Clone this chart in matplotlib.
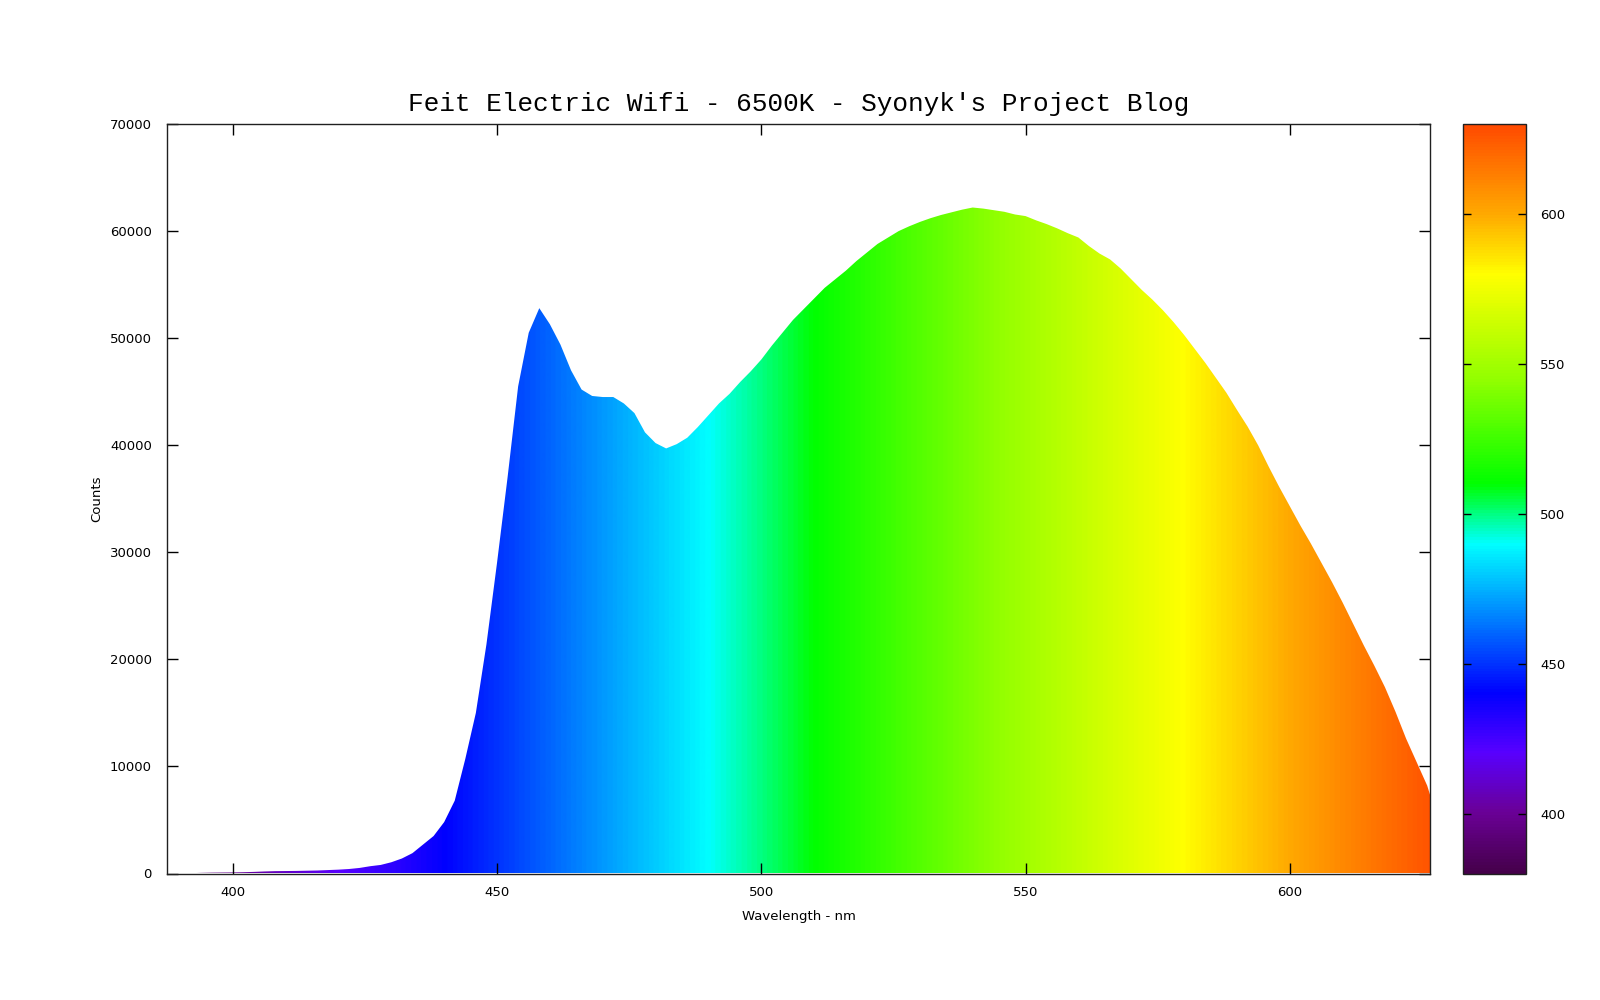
import numpy as np
import matplotlib
matplotlib.use("Agg")
import matplotlib.pyplot as plt
from matplotlib.colors import LinearSegmentedColormap, Normalize
from matplotlib.patches import Polygon
from matplotlib.cm import ScalarMappable

# Spectrum (2 nm steps)
wavelength = np.arange(388, 630, 2)
counts = [
    0, 0, 30, 60, 80, 90, 100, 120, 150, 190,
    220, 230, 240, 260, 280, 320, 360, 420, 520, 680,
    800, 1050, 1400, 1900, 2700, 3500, 4800, 6800, 10700, 15000,
    21400, 29000, 37000, 45500, 50500, 52800, 51300, 49400, 47000, 45200,
    44600, 44500, 44500, 43900, 43000, 41200, 40200, 39700, 40100, 40700,
    41700, 42800, 43900, 44800, 45900, 46900, 48000, 49300, 50500, 51700,
    52700, 53700, 54700, 55500, 56300, 57200, 58000, 58800, 59400, 60000,
    60450, 60850, 61200, 61500, 61750, 62000, 62200, 62100, 61950, 61800,
    61550, 61400, 61000, 60650, 60250, 59800, 59400, 58600, 57900, 57350,
    56500, 55500, 54500, 53600, 52600, 51500, 50300, 49000, 47700, 46300,
    44900, 43300, 41750, 40000, 38000, 36100, 34300, 32500, 30800, 29000,
    27200, 25300, 23300, 21300, 19400, 17400, 15100, 12600, 10400, 8200,
    5000,
]

title = "Feit Electric Wifi - 6500K - Syonyk's Project Blog"
x_ticks = [400, 450, 500, 550, 600]
y_ticks = [0, 10000, 20000, 30000, 40000, 50000, 60000, 70000]
cb_ticks = [400, 450, 500, 550, 600]

# wavelength -> colour nodes for the rainbow palette
cmap_nodes = [
    (380, "#45004a"), (400, "#6a0096"), (420, "#5800ff"), (440, "#0000ff"),
    (490, "#00ffff"), (510, "#00ff00"), (545, "#92ff00"), (580, "#ffff00"),
    (600, "#ffaa00"), (630, "#ff4a00"),
]
cb_min, cb_max = 380, 630
cmap = LinearSegmentedColormap.from_list(
    "spectrum", [((w - cb_min) / (cb_max - cb_min), c) for w, c in cmap_nodes])
norm = Normalize(cb_min, cb_max)

fig = plt.figure(figsize=(16, 10), dpi=100)
ax = fig.add_axes([0.1045, 0.1265, 0.7895, 0.7495])
cax = fig.add_axes([0.9145, 0.1265, 0.0395, 0.7495])

# Filled curve coloured by wavelength: gradient image clipped to the area
verts = np.column_stack([np.r_[wavelength[0], wavelength, wavelength[-1]],
                         np.r_[0, counts, 0]])
clip = Polygon(verts, closed=True, facecolor="none", edgecolor="none",
               transform=ax.transData)
ax.add_patch(clip)
grad = np.linspace(cb_min, cb_max, 1200).reshape(1, -1)
im = ax.imshow(grad, extent=[cb_min, cb_max, 0, 70000], aspect="auto",
               cmap=cmap, norm=norm, origin="lower", interpolation="bilinear")
im.set_clip_path(clip)

ax.set_xlim(387.6, 626.6)
ax.set_ylim(0, 70000)
ax.set_xticks(x_ticks)
ax.set_yticks(y_ticks)
ax.tick_params(direction="in", top=True, right=True, length=8, width=1,
               labelsize=9.5, pad=9)
ax.tick_params(axis="y", pad=11)
for s in ax.spines.values():
    s.set_linewidth(1)
    s.set_color("#202020")

ax.set_xlabel("Wavelength - nm", fontsize=9.5, labelpad=8)
ax.set_ylabel("Counts", fontsize=9.5, labelpad=5)
ax.set_title(title, family="Liberation Mono", fontsize=18.8, pad=9)

cb = fig.colorbar(ScalarMappable(norm=norm, cmap=cmap), cax=cax)
cb.set_ticks(cb_ticks)
cax.tick_params(direction="in", left=True, right=True, length=6, width=1,
                labelsize=9.5, pad=10)
cb.outline.set_linewidth(1)
cb.outline.set_edgecolor("#202020")

fig.savefig("out.png", dpi=100)
